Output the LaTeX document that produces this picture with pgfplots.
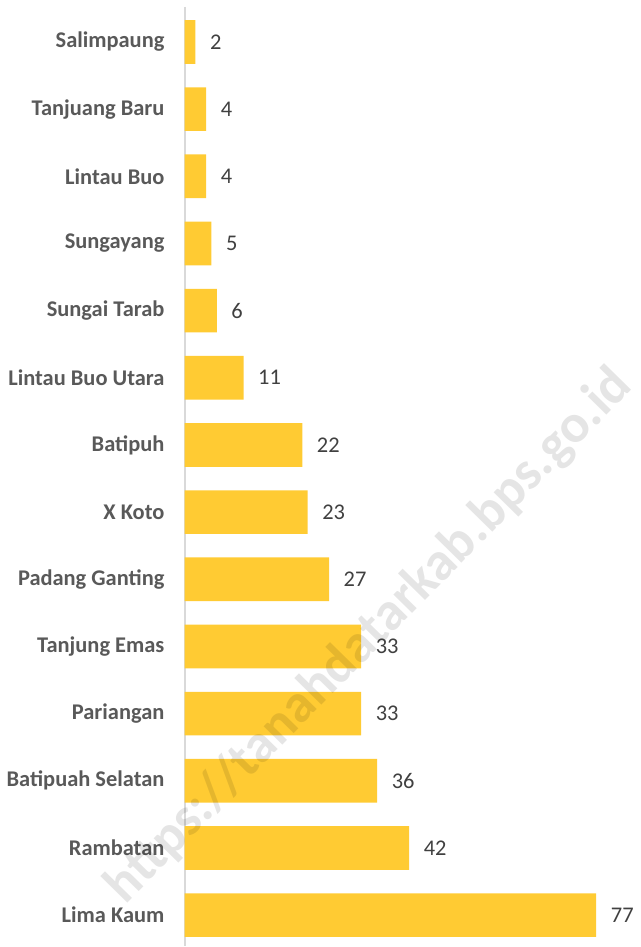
\documentclass[border=0pt]{standalone}
\usepackage{pgfplots}
\pgfplotsset{compat=1.18}
\usepackage{fontspec}
\setmainfont{Carlito}
\definecolor{baryellow}{HTML}{FFCB33}
\definecolor{labgray}{HTML}{595959}
\definecolor{valgray}{HTML}{404040}
\begin{document}
\begin{tikzpicture}
\begin{axis}[
    xbar,
    scale only axis,
    width=217pt, height=469pt,
    xmin=0, xmax=81.3,
    ymin=-0.52, ymax=13.46,
    y dir=reverse,
    bar width=0.65,
    axis x line=none,
    axis y line=left,
    axis line style={-, draw=black!15, line width=1pt},
    ytick={0,...,13},
    yticklabels={Salimpaung, Tanjuang Baru, Lintau Buo, Sungayang, Sungai Tarab,
        Lintau Buo Utara, Batipuh, X Koto, Padang Ganting, Tanjung Emas,
        Pariangan, Batipuah Selatan, Rambatan, Lima Kaum},
    ytick style={draw=none},
    yticklabel style={font=\fontsize{11.2pt}{13pt}\selectfont\bfseries, text=labgray},
    yticklabel shift=4.5pt,
    /pgf/number format/assume math mode=true,
    nodes near coords,
    nodes near coords style={font=\fontsize{11.2pt}{13pt}\selectfont, text=valgray, xshift=3.8pt},
    clip=false,
]
\addplot[fill=baryellow, draw=none] coordinates {
    (2,0) (4,1) (4,2) (5,3) (6,4) (11,5) (22,6) (23,7)
    (27,8) (33,9) (33,10) (36,11) (42,12) (77,13)
};
\node[overlay, rotate=45.5, text=black, opacity=0.1, font=\fontsize{27pt}{29pt}\selectfont\bfseries]
    at (axis cs:34.6,8.85) {https://tanahdatarkab.bps.go.id};
\end{axis}
\path (current axis.north) ++(0,3.5pt);
\end{tikzpicture}
\end{document}
